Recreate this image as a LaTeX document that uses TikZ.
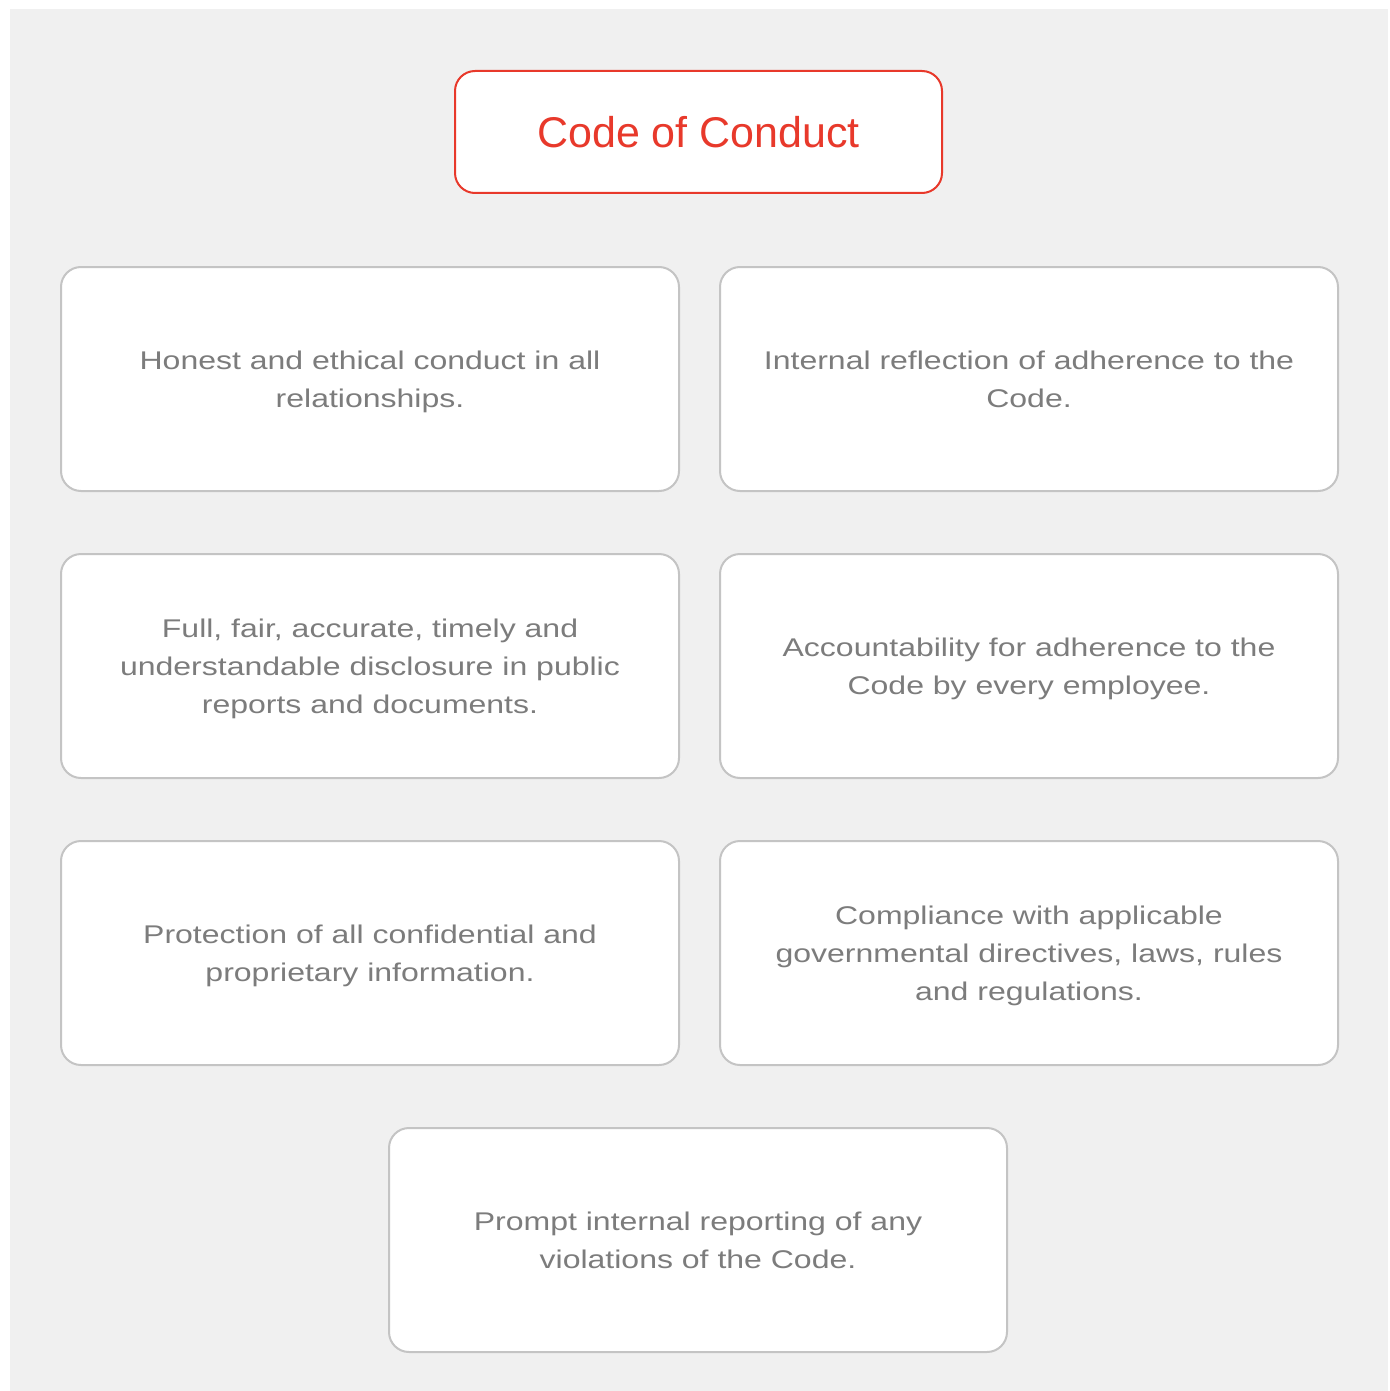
\documentclass[tikz,border=0pt]{standalone}
\usepackage{fontspec}
\setmainfont[FakeStretch=1.25]{Liberation Sans}
\newfontfamily\headfont{Liberation Sans}
\definecolor{pagegray}{HTML}{F0F0F0}
\definecolor{boxgray}{HTML}{C4C4C4}
\definecolor{txtgray}{HTML}{7C7C7C}
\definecolor{codered}{HTML}{E8392B}
\tikzset{
	item/.style={draw=boxgray, line width=1pt, fill=white, rounded corners=10pt,
		minimum width=309pt, minimum height=112pt, align=center, inner sep=0pt,
		text depth=-4pt, text=txtgray, font=\fontsize{12.8}{19}\selectfont},
	heading/.style={draw=codered, line width=1pt, fill=white, rounded corners=10pt,
		minimum width=243.5pt, minimum height=61pt, inner sep=0pt,
		text depth=-3pt, text=codered, font=\headfont\fontsize{21.5}{26}\selectfont}
}

\begin{document}
\begin{tikzpicture}[x=0.5pt, y=-0.5pt]
		%%%%% PAGE %%%%%
		\useasboundingbox (0, 0) rectangle (1390, 1391);
		\fill[pagegray] (10, 9) rectangle (1388, 1391);
		
		%%%%% TITLE %%%%%
		\node[heading] (code) at (698.5, 132) {Code of Conduct};
		
		%%%%% PRINCIPLES %%%%%
		\node[item] (honest) at (370, 379) {Honest and ethical conduct in all\\relationships.};
		\node[item] (reflect) at (1029, 379) {Internal reflection of adherence to the\\Code.};
		
		\node[item] (disclose) at (370, 666) {Full, fair, accurate, timely and\\understandable disclosure in public\\reports and documents.};
		\node[item] (account) at (1029, 666) {Accountability for adherence to the\\Code by every employee.};
		
		\node[item] (protect) at (370, 953) {Protection of all confidential and\\proprietary information.};
		\node[item] (comply) at (1029, 953) {Compliance with applicable\\governmental directives, laws, rules\\and regulations.};
		
		\node[item] (report) at (698, 1240) {Prompt internal reporting of any\\violations of the Code.};
	\end{tikzpicture}
\end{document}
